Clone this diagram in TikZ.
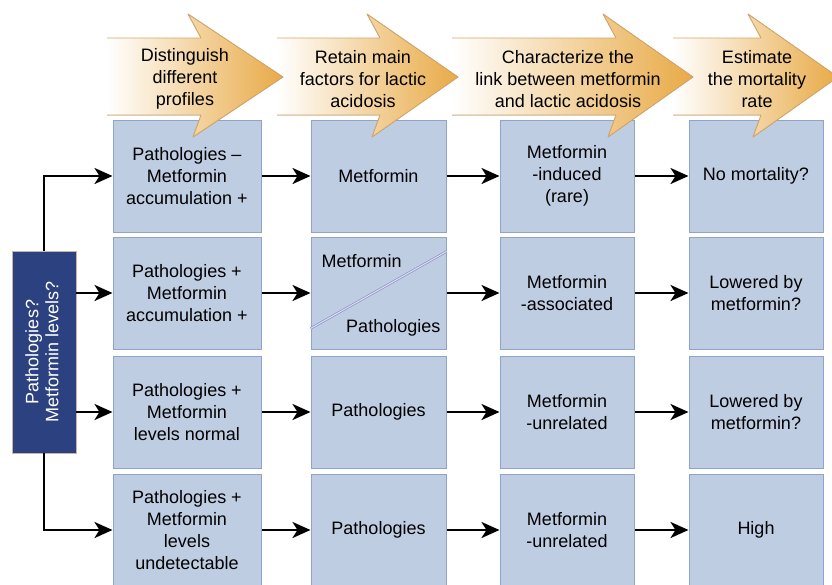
\documentclass[tikz,border=0pt]{standalone}
\usepackage{fontspec}
\setmainfont{Liberation Sans}
\usetikzlibrary{arrows.meta}

\definecolor{cellfill}{RGB}{191,205,226}
\definecolor{cellline}{RGB}{143,163,205}
\definecolor{darkcell}{RGB}{44,65,127}
\definecolor{darkline}{RGB}{205,180,160}
\definecolor{hdrorange}{RGB}{232,170,70}
\definecolor{hdrline}{RGB}{210,166,106}
\definecolor{splitline}{RGB}{140,146,200}

\tikzset{
    cell/.style={draw=cellline, fill=cellfill, line width=1pt, minimum height=112pt,
        inner sep=0pt, align=center, font=\fontsize{18}{22}\selectfont},
    hdrtext/.style={align=center, inner sep=0pt, font=\fontsize{18}{22}\selectfont},
    link/.style={-{Stealth[length=18pt,width=16pt,inset=5pt]}, line width=2.6pt},
}

\begin{document}
\begin{tikzpicture}[x=1pt,y=-1pt]
    \useasboundingbox (0,0) rectangle (832,584);

    %question box
    \node[fill=darkcell, draw=darkline, line width=0.8pt, minimum width=64pt,
        minimum height=202pt, inner sep=0pt] (q) at (44,352) {};
    \node[rotate=90, text=white, align=center, inner sep=0pt,
        font=\fontsize{18}{20}\selectfont] (qtext) at ([xshift=-2pt]q.center) {Pathologies?\\Metformin levels?};

    %profiles
    \node[cell, minimum width=148pt] (c11) at (187,176) {Pathologies –\\Metformin\\accumulation +};
    \node[cell, minimum width=148pt] (c21) at (187,293) {Pathologies +\\Metformin\\accumulation +};
    \node[cell, minimum width=148pt] (c31) at (187,412) {Pathologies +\\Metformin\\levels normal};
    \node[cell, minimum width=148pt] (c41) at (187,530) {Pathologies +\\Metformin\\levels\\undetectable};

    %main factors
    \node[cell, minimum width=135pt] (c12) at (378.5,176) {Metformin};
    \node[cell, minimum width=135pt] (c22) at (378.5,293) {};
    \node[cell, minimum width=135pt] (c32) at (378.5,412) {Pathologies};
    \node[cell, minimum width=135pt] (c42) at (378.5,530) {Pathologies};

    \draw[draw=splitline, double={rgb,255:red,222;green,224;blue,242}, double distance=1pt, line width=0.7pt]
        ([yshift=21pt]c22.south west) -- ([yshift=-15pt]c22.north east);
    \node[anchor=north west, inner sep=0pt, font=\fontsize{18}{22}\selectfont] (c22a)
        at ([xshift=11pt,yshift=-18pt]c22.north west) {Metformin};
    \node[anchor=base east, inner sep=0pt, font=\fontsize{18}{22}\selectfont] (c22b)
        at ([xshift=-6pt,yshift=17pt]c22.south east) {Pathologies};

    %link
    \node[cell, minimum width=134pt] (c13) at (567,176) {Metformin\\-induced\\(rare)};
    \node[cell, minimum width=134pt] (c23) at (567,293) {Metformin\\-associated};
    \node[cell, minimum width=134pt] (c33) at (567,412) {Metformin\\-unrelated};
    \node[cell, minimum width=134pt] (c43) at (567,530) {Metformin\\-unrelated};

    %mortality
    \node[cell, minimum width=134pt] (c14) at (756,176) {No mortality?};
    \node[cell, minimum width=134pt] (c24) at (756,293) {Lowered by\\metformin?};
    \node[cell, minimum width=134pt] (c34) at (756,412) {Lowered by\\metformin?};
    \node[cell, minimum width=134pt] (c44) at (756,530) {High};

    %arrows
    \draw[link] (q.north) |- (c11.west);
    \draw[link] (q.east |- c21.west) -- (c21.west);
    \draw[link] (q.east |- c31.west) -- (c31.west);
    \draw[link] (q.south) |- (c41.west);
    \foreach \r in {1,2,3,4}{
        \draw[link] (c\r1) -- (c\r2);
        \draw[link] (c\r2) -- (c\r3);
        \draw[link] (c\r3) -- (c\r4);
    }

    %headers
    \foreach \xs/\xh/\xt/\xc/\txt/\i in {
        673/761/838/757/{Estimate\\the mortality\\rate}/4,
        452/616/693/568/{Characterize the\\link between metformin\\and lactic acidosis}/3,
        277/380/458/363/{Retain main\\factors for lactic\\acidosis}/2,
        107/201/283/185/{Distinguish\\different\\profiles}/1}{
        \fill[left color=white, right color=hdrorange]
            (\xs,38) -- (\xh,38) -- (\xh-13,14) -- (\xt,77) -- (\xh-8,137) -- (\xh,115) -- (\xs,115) -- cycle;
        \draw[hdrline, line width=0.9pt, line join=round]
            (\xs,38) -- (\xh,38) -- (\xh-13,14) -- (\xt,77) -- (\xh-8,137) -- (\xh,115) -- (\xs,115);
        \node[hdrtext] (hd\i) at (\xc,79) {\txt};
    }
\end{tikzpicture}
\end{document}
